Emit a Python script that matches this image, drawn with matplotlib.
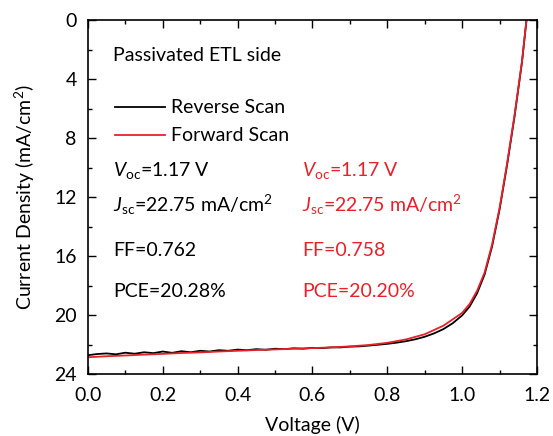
import numpy as np
import matplotlib
matplotlib.use("Agg")
from matplotlib import pyplot as plt
from matplotlib.ticker import MultipleLocator

# reverse scan (black)
v_rev = [0.00, 0.025, 0.05, 0.075, 0.10, 0.125, 0.15, 0.175, 0.20, 0.225, 0.25, 0.275,
         0.30, 0.325, 0.35, 0.375, 0.40, 0.425, 0.45, 0.475, 0.50, 0.525, 0.55, 0.575,
         0.60, 0.625, 0.65, 0.675, 0.70, 0.725, 0.75, 0.775, 0.80, 0.825, 0.85, 0.875,
         0.90, 0.925, 0.95, 0.975, 1.00, 1.02, 1.04, 1.06, 1.08, 1.10, 1.12, 1.14,
         1.16, 1.172, 1.178]
j_rev = [22.72, 22.64, 22.60, 22.66, 22.55, 22.62, 22.52, 22.58, 22.47, 22.56, 22.45, 22.52,
         22.42, 22.47, 22.38, 22.42, 22.34, 22.38, 22.31, 22.35, 22.28, 22.31, 22.25, 22.28,
         22.22, 22.24, 22.19, 22.19, 22.14, 22.12, 22.07, 22.01, 21.95, 21.87, 21.77, 21.64,
         21.47, 21.24, 20.95, 20.55, 20.02, 19.42, 18.52, 17.25, 15.35, 12.85, 9.85, 6.55,
         2.85, 0.0, -1.2]

# forward scan (red)
v_fwd = [0.00, 0.05, 0.10, 0.15, 0.20, 0.25, 0.30, 0.35, 0.40, 0.45, 0.50, 0.55,
         0.60, 0.65, 0.70, 0.75, 0.80, 0.85, 0.90, 0.95, 1.00, 1.02, 1.04, 1.06,
         1.08, 1.10, 1.12, 1.14, 1.16, 1.172, 1.178]
j_fwd = [22.86, 22.79, 22.74, 22.68, 22.63, 22.57, 22.53, 22.47, 22.42, 22.37, 22.33, 22.28,
         22.24, 22.19, 22.12, 22.03, 21.88, 21.65, 21.30, 20.72, 19.85, 19.25, 18.35, 17.12,
         15.22, 12.75, 9.75, 6.45, 2.80, 0.0, -1.2]

rev_params = [r"$V_{\mathrm{oc}}$=1.17 V", r"$J_{\mathrm{sc}}$=22.75 mA/cm$^2$",
              "FF=0.762", "PCE=20.28%"]
fwd_params = [r"$V_{\mathrm{oc}}$=1.17 V", r"$J_{\mathrm{sc}}$=22.75 mA/cm$^2$",
              "FF=0.758", "PCE=20.20%"]
param_y = [10.2, 12.5, 15.6, 18.4]

red = "#e8202a"
fs = 14

plt.rcParams["font.family"] = ["Lato", "DejaVu Sans"]
plt.rcParams["mathtext.fontset"] = "custom"
plt.rcParams["mathtext.rm"] = "Lato"
plt.rcParams["mathtext.it"] = "Lato:italic"

fig = plt.figure(figsize=(5.53, 4.36), dpi=100)
ax = fig.add_axes([0.159, 0.142, 0.812, 0.812])

ax.plot(v_rev, j_rev, color="black", lw=1.3)
ax.plot(v_fwd, j_fwd, color=red, lw=1.3)

ax.set_xlim(0, 1.2)
ax.set_ylim(24, 0)
ax.xaxis.set_major_locator(MultipleLocator(0.2))
ax.xaxis.set_minor_locator(MultipleLocator(0.1))
ax.yaxis.set_major_locator(MultipleLocator(4))
ax.yaxis.set_minor_locator(MultipleLocator(2))
ax.xaxis.set_major_formatter(matplotlib.ticker.FormatStrFormatter("%.1f"))
ax.tick_params(which="both", direction="in", top=True, right=True, labelsize=fs, width=1)
ax.tick_params(which="major", length=6)
ax.tick_params(which="minor", length=3)
ax.tick_params(axis="x", pad=9)
ax.tick_params(axis="y", pad=8)
for s in ax.spines.values():
    s.set_linewidth(1.2)

ax.set_xlabel("Voltage (V)", fontsize=fs)
ax.set_ylabel("Current Density (mA/cm$^2$)", fontsize=fs)
ax.xaxis.set_label_coords(0.5, -0.118)
ax.yaxis.set_label_coords(-0.114, 0.5)

ax.text(0.067, 2.37, "Passivated ETL side", fontsize=fs, va="center")

# legend drawn by hand
ax.plot([0.072, 0.206], [5.9, 5.9], color="black", lw=1.3)
ax.plot([0.072, 0.206], [7.8, 7.8], color=red, lw=1.3)
ax.text(0.222, 5.9, "Reverse Scan", fontsize=fs, va="center")
ax.text(0.222, 7.8, "Forward Scan", fontsize=fs, va="center")

for t, y in zip(rev_params, param_y):
    ax.text(0.067, y, t, fontsize=fs, va="center", color="black")
for t, y in zip(fwd_params, param_y):
    ax.text(0.572, y, t, fontsize=fs, va="center", color=red)

fig.savefig("out.png", dpi=100)
